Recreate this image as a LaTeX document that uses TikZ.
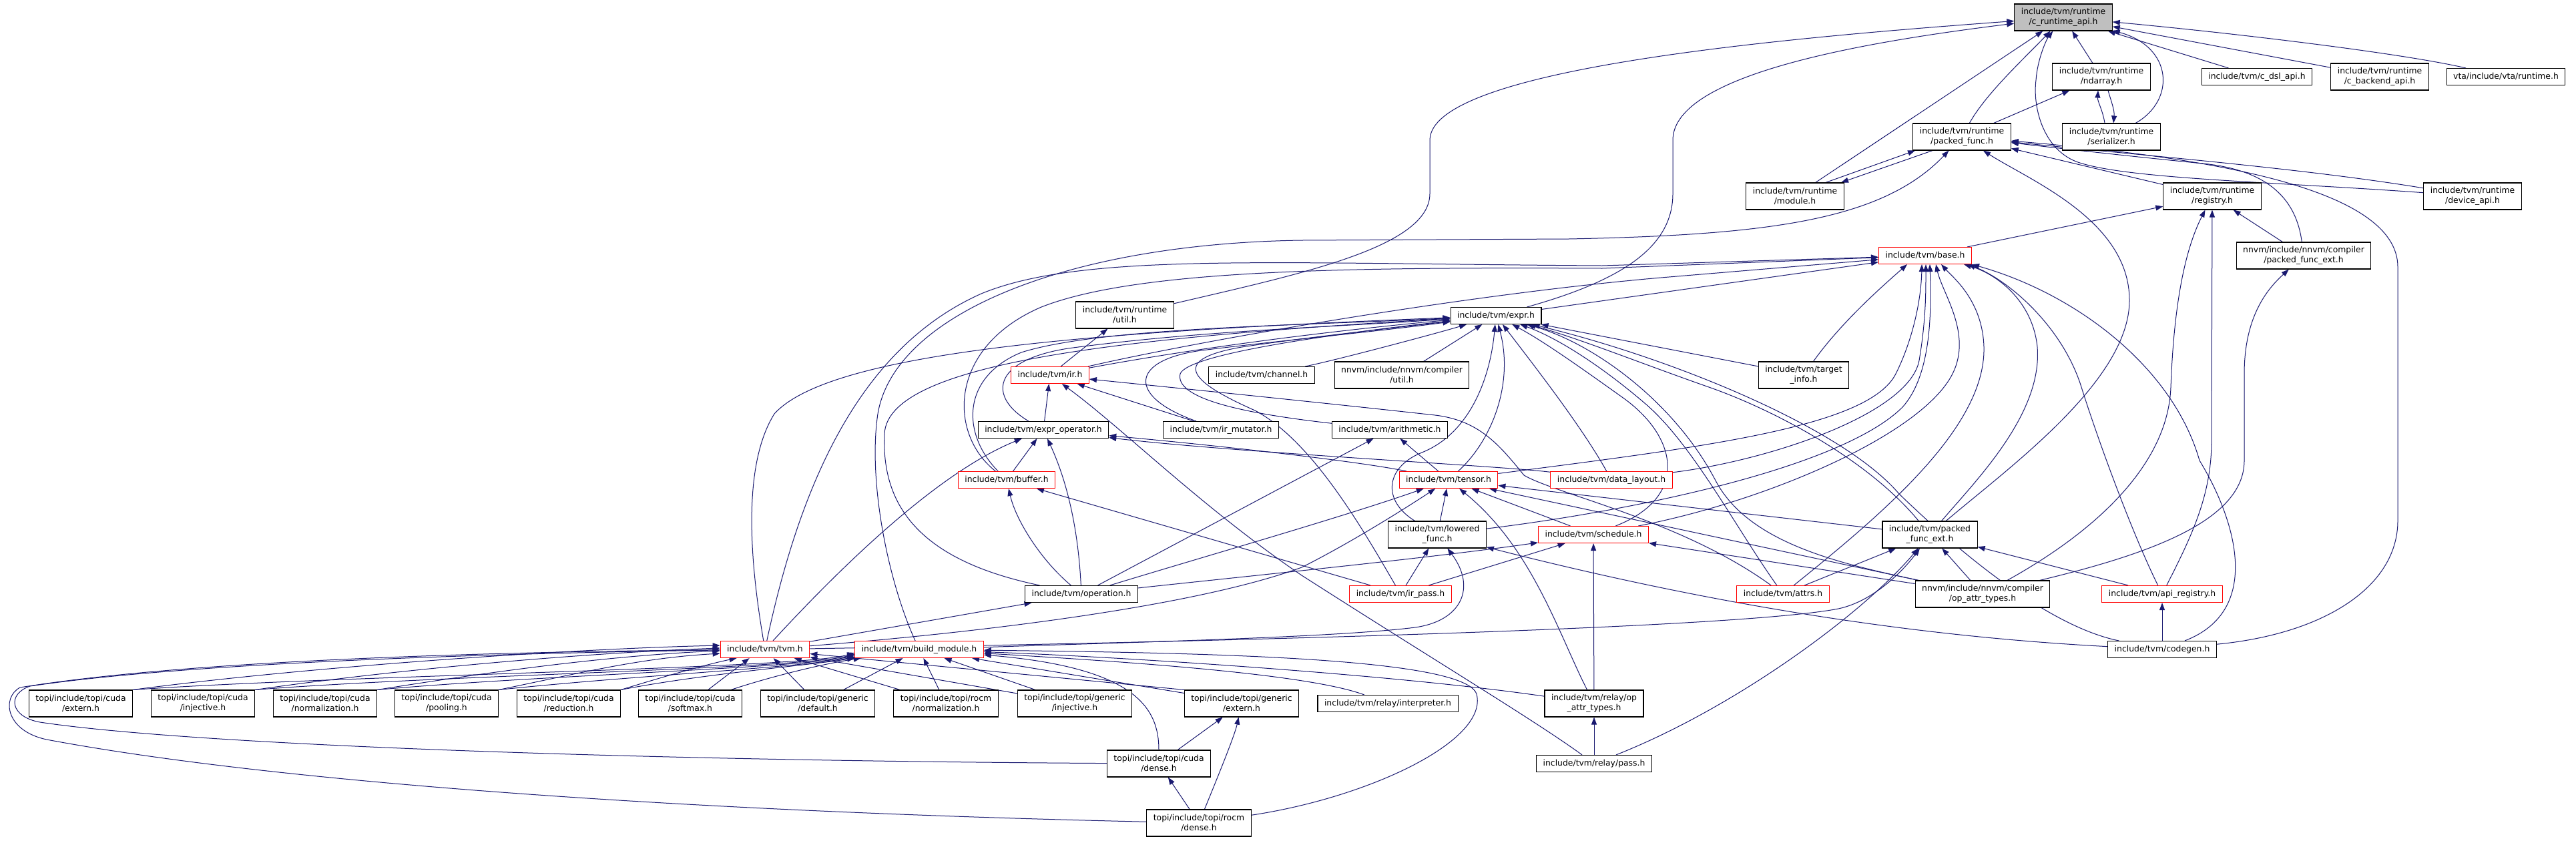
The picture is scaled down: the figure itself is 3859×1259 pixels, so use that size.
\documentclass[tikz,border=0pt]{standalone}
\usepackage{fontspec}
\setmainfont{DejaVu Sans}
\usetikzlibrary{arrows.meta}
\definecolor{edgec}{HTML}{191970}
\definecolor{rootfill}{HTML}{BFBFBF}
\newcommand{\nfont}{\fontsize{12.4pt}{15pt}\selectfont}
\pgfdeclarelayer{back}
\pgfdeclarelayer{bg}
\pgfsetlayers{back,bg,main}
\tikzset{
  box/.style={draw=black, line width=1.1pt, fill=white, inner xsep=10pt, inner ysep=0pt, font=\nfont},
  one/.style={box, minimum height=25pt, text height=9.5pt, text depth=2.8pt},
  two/.style={box, minimum height=40pt, align=center},
  hot/.style={draw=red},
  root/.style={fill=rootfill},
  e/.style={draw=edgec, line width=1pt, -{Triangle[length=11pt,width=8pt]}},
}
\begin{document}
\begin{tikzpicture}[x=1pt,y=-1pt]
\begin{pgfonlayer}{back}
\fill[white] (0,0) rectangle (3859,1259);
\end{pgfonlayer}
\useasboundingbox (0,0) rectangle (3859,1259);
% ---------------- nodes ----------------
\node[two,root] (capi) at (3091,26) {include/tvm/runtime\\/c\_runtime\_api.h};
\node[two] (ndarray) at (3148,115) {include/tvm/runtime\\/ndarray.h};
\node[one] (cdsl) at (3381,115) {include/tvm/c\_dsl\_api.h};
\node[two] (cbackend) at (3565,115) {include/tvm/runtime\\/c\_backend\_api.h};
\node[one] (vta) at (3754,115) {vta/include/vta/runtime.h};
\node[two] (packed) at (2939,205) {include/tvm/runtime\\/packed\_func.h};
\node[two] (serializer) at (3163,205) {include/tvm/runtime\\/serializer.h};
\node[two] (module) at (2689,294) {include/tvm/runtime\\/module.h};
\node[two] (registry) at (3314,294) {include/tvm/runtime\\/registry.h};
\node[two] (devapi) at (3704,294) {include/tvm/runtime\\/device\_api.h};
\node[one,hot] (base) at (2884,383) {include/tvm/base.h};
\node[two] (nnpfe) at (3451,383) {nnvm/include/nnvm/compiler\\/packed\_func\_ext.h};
\node[two] (rutil) at (1685,472) {include/tvm/runtime\\/util.h};
\node[one] (expr) at (2241,473) {include/tvm/expr.h};
\node[one,hot] (ir) at (1573,562) {include/tvm/ir.h};
\node[one] (channel) at (1890,562) {include/tvm/channel.h};
\node[two] (nnutil) at (2100,562) {nnvm/include/nnvm/compiler\\/util.h};
\node[two] (target) at (2702,562) {include/tvm/target\\\_info.h};
\node[one] (exprop) at (1563,644) {include/tvm/expr\_operator.h};
\node[one] (irmut) at (1829,644) {include/tvm/ir\_mutator.h};
\node[one] (arith) at (2082,644) {include/tvm/arithmetic.h};
\node[one,hot] (buffer) at (1508,719) {include/tvm/buffer.h};
\node[one,hot] (tensor) at (2170,719) {include/tvm/tensor.h};
\node[one,hot] (layout) at (2414,719) {include/tvm/data\_layout.h};
\node[two] (lowered) at (2153,801) {include/tvm/lowered\\\_func.h};
\node[one,hot] (schedule) at (2387,801) {include/tvm/schedule.h};
\node[two] (tpfe) at (2891,801) {include/tvm/packed\\\_func\_ext.h};
\node[one] (operation) at (1620,890) {include/tvm/operation.h};
\node[one,hot] (irpass) at (2098,890) {include/tvm/ir\_pass.h};
\node[one,hot] (attrs) at (2671,890) {include/tvm/attrs.h};
\node[two] (nnop) at (2970,890) {nnvm/include/nnvm/compiler\\/op\_attr\_types.h};
\node[one,hot] (apireg) at (3239,890) {include/tvm/api\_registry.h};
\node[one,hot] (tvm) at (1146,973) {include/tvm/tvm.h};
\node[one,hot] (build) at (1377,973) {include/tvm/build\_module.h};
\node[one] (codegen) at (3239,973) {include/tvm/codegen.h};
\node[two] (cext) at (121,1054) {topi/include/topi/cuda\\/extern.h};
\node[two] (cinj) at (304,1054) {topi/include/topi/cuda\\/injective.h};
\node[two] (cnorm) at (487,1054) {topi/include/topi/cuda\\/normalization.h};
\node[two] (cpool) at (669,1054) {topi/include/topi/cuda\\/pooling.h};
\node[two] (cred) at (852,1054) {topi/include/topi/cuda\\/reduction.h};
\node[two] (csoft) at (1034,1054) {topi/include/topi/cuda\\/softmax.h};
\node[two] (gdef) at (1225,1054) {topi/include/topi/generic\\/default.h};
\node[two] (rnorm) at (1417,1054) {topi/include/topi/rocm\\/normalization.h};
\node[two] (ginj) at (1610,1054) {topi/include/topi/generic\\/injective.h};
\node[two] (gext) at (1860,1054) {topi/include/topi/generic\\/extern.h};
\node[one] (interp) at (2079,1054) {include/tvm/relay/interpreter.h};
\node[two] (relayop) at (2388,1054) {include/tvm/relay/op\\\_attr\_types.h};
\node[two] (cdense) at (1736,1144) {topi/include/topi/cuda\\/dense.h};
\node[one] (rpass) at (2388,1144) {include/tvm/relay/pass.h};
\node[two] (rdense) at (1796,1233) {topi/include/topi/rocm\\/dense.h};
% ---------------- edges ----------------
\begin{pgfonlayer}{bg}
% to c_runtime_api.h
\draw[e] (rutil) .. controls (1950,410) and (2142,370) .. (2142,290) -- (2142,210) .. controls (2142,100) and (2700,55) .. (capi);
\draw[e] (expr) .. controls (2430,420) and (2506,370) .. (2506,290) -- (2506,210) .. controls (2506,110) and (2800,62) .. (capi);
\draw[e] (module) -- (capi);
\draw[e] (packed) .. controls (2975,140) and (3035,85) .. (capi);
\draw[e] (devapi) .. controls (3400,272) and (3180,268) .. (3110,242) .. controls (3060,222) and (3045,160) .. (3050,120) .. controls (3052,90) and (3065,60) .. (capi);
\draw[e] (ndarray) -- (capi);
\draw[e] (serializer) .. controls (3260,150) and (3255,70) .. (capi);
\draw[e] (cdsl) -- (capi);
\draw[e] (cbackend) -- (capi);
\draw[e] ([xshift=-60pt]vta.north) .. controls (3600,80) and (3350,50) .. (capi);
% runtime cluster
\draw[e] ([xshift=-10pt]serializer.north) .. controls (3150,165) and (3142,152) .. ([xshift=-5pt]ndarray.south);
\draw[e] ([xshift=10pt]ndarray.south) .. controls (3162,150) and (3168,165) .. ([xshift=3pt]serializer.north);
\draw[e] (packed) -- (ndarray);
\draw[e] ([xshift=46pt]module.north) -- ([xshift=-70pt]packed.south);
\draw[e] ([xshift=-44pt]packed.south) -- ([xshift=69pt]module.north);
\draw[e] (registry) -- (packed);
\draw[e] (devapi) .. controls (3450,252) and (3200,232) .. (packed);
\draw[e] (tpfe) .. controls (3010,700) and (3190,570) .. (3190,450) .. controls (3190,330) and (3040,270) .. (packed);
\draw[e] (codegen) .. controls (3480,950) and (3592,880) .. (3592,780) -- (3592,400) .. controls (3592,280) and (3300,235) .. (packed);
\draw[e] (nnpfe) .. controls (3440,300) and (3400,255) .. (3300,245) .. controls (3200,235) and (3100,224) .. (packed);
\draw[e] (build) .. controls (1330,870) and (1300,720) .. (1315,620) .. controls (1340,470) and (1600,365) .. (1950,360) -- (2350,358) .. controls (2650,352) and (2820,330) .. (packed);
% to registry
\draw[e] (base) -- (registry);
\draw[e] (nnpfe) -- (registry);
\draw[e] (apireg) .. controls (3285,800) and (3313,740) .. (3313,660) -- (registry);
\draw[e] (nnop) .. controls (3150,790) and (3248,690) .. (3252,580) .. controls (3256,470) and (3270,380) .. (registry);
\draw[e] (nnop) .. controls (3220,830) and (3362,780) .. (3362,690) -- (3362,560) .. controls (3362,470) and (3400,430) .. (nnpfe);
% to base.h
\draw[e] (expr) -- (base);
\draw[e] (target) .. controls (2760,480) and (2830,420) .. ([xshift=-27pt]base.south);
\draw[e] (tensor) .. controls (2550,670) and (2800,640) .. (2840,560) .. controls (2865,510) and (2878,450) .. ([xshift=-5pt]base.south);
\draw[e] (layout) .. controls (2650,690) and (2860,620) .. (2875,540) .. controls (2885,480) and (2885,440) .. ([xshift=1pt]base.south);
\draw[e] (lowered) .. controls (2450,765) and (2760,700) .. (2850,610) .. controls (2895,560) and (2893,460) .. ([xshift=7pt]base.south);
\draw[e] (schedule) .. controls (2650,750) and (2880,650) .. (2925,560) .. controls (2955,500) and (2910,440) .. ([xshift=16pt]base.south);
\draw[e] (attrs) .. controls (2820,770) and (2975,640) .. (2972,520) .. controls (2970,450) and (2925,415) .. ([xshift=24pt]base.south);
\draw[e] (tpfe) .. controls (2960,720) and (3060,620) .. (3052,520) .. controls (3045,450) and (2990,410) .. ([xshift=-12pt]base.south east);
\draw[e] (apireg) .. controls (3190,790) and (3140,650) .. (3118,580) .. controls (3090,490) and (3010,420) .. ([xshift=-6pt]base.south east);
\draw[e] (codegen) .. controls (3390,915) and (3350,780) .. (3295,690) .. controls (3255,550) and (3110,440) .. (base.south east);
\draw[e] (ir) .. controls (1800,510) and (2200,440) .. (2500,415) -- (base);
\draw[e] (buffer) .. controls (1420,650) and (1420,520) .. (1560,460) .. controls (1700,405) and (2000,400) .. (2400,402) -- (base);
\draw[e] (tvm) .. controls (1200,720) and (1290,520) .. (1470,440) .. controls (1620,378) and (1900,395) .. (2400,398) -- (base);
% to expr.h
\draw[e] (ir) .. controls (1800,520) and (2000,495) .. (expr);
\draw[e] (buffer) .. controls (1440,650) and (1440,565) .. (1530,528) .. controls (1650,490) and (1950,488) .. (expr);
\draw[e] (exprop) .. controls (1480,595) and (1485,540) .. (1600,522) .. controls (1800,495) and (2000,490) .. (expr);
\draw[e] (irmut) .. controls (1690,595) and (1690,540) .. (1800,525) .. controls (1920,510) and (2060,497) .. (expr);
\draw[e] (arith) .. controls (1850,618) and (1760,595) .. (1768,560) .. controls (1780,530) and (2000,500) .. (expr);
\draw[e] (operation) .. controls (1380,840) and (1320,760) .. (1325,650) .. controls (1330,540) and (1700,505) .. (expr);
\draw[e] (irpass) .. controls (2040,790) and (1965,660) .. (1880,615) .. controls (1790,575) and (1745,540) .. (1860,520) .. controls (1960,505) and (2100,490) .. (expr);
\draw[e] (tvm) .. controls (1125,850) and (1110,700) .. (1160,620) .. controls (1250,520) and (1700,495) .. (expr);
\draw[e] (channel) .. controls (2000,540) and (2150,500) .. (expr);
\draw[e] (nnutil) -- (expr);
\draw[e] (lowered) .. controls (2070,750) and (2075,700) .. (2130,678) .. controls (2200,650) and (2232,570) .. (expr);
\draw[e] (tensor) .. controls (2235,660) and (2268,575) .. (expr);
\draw[e] (layout) .. controls (2370,640) and (2300,550) .. (expr);
\draw[e] (schedule) .. controls (2530,745) and (2515,655) .. (2430,595) .. controls (2360,545) and (2310,510) .. (expr);
\draw[e] (attrs) .. controls (2600,790) and (2535,665) .. (2465,605) .. controls (2395,545) and (2330,505) .. (expr);
\draw[e] (nnop) .. controls (2760,845) and (2620,815) .. (2570,720) .. controls (2510,605) and (2390,515) .. (expr);
\draw[e] (tpfe) .. controls (2800,690) and (2660,615) .. (2560,580) .. controls (2460,545) and (2360,505) .. (expr);
\draw[e] (target) -- (expr);
\draw[e] (codegen) .. controls (3100,945) and (2990,880) .. (2845,740) .. controls (2760,640) and (2500,535) .. (expr);
% expr_operator, ir, util
\draw[e] (exprop) -- (ir);
\draw[e] (tvm) .. controls (1250,860) and (1400,710) .. (exprop);
\draw[e] (buffer) -- (exprop);
\draw[e] (operation) .. controls (1615,790) and (1598,720) .. (exprop);
\draw[e] (tensor) .. controls (2030,690) and (1800,665) .. (exprop);
\draw[e] (layout) .. controls (2250,698) and (1850,678) .. (exprop);
\draw[e] (irmut) -- (ir);
\draw[e] (attrs) .. controls (2520,780) and (2330,740) .. (2283,712) .. controls (2245,665) and (2215,630) .. (2150,622) .. controls (1950,600) and (1750,580) .. (ir);
\draw[e] (rpass) .. controls (2300,1080) and (2150,990) .. (1950,862) .. controls (1800,760) and (1680,640) .. (ir);
\draw[e] (ir) -- (rutil);
% buffer, tensor, arithmetic
\draw[e] (operation) .. controls (1560,840) and (1522,780) .. (buffer);
\draw[e] (irpass) -- (buffer);
\draw[e] (tvm) .. controls (1500,945) and (1800,905) .. (1950,850) .. controls (2020,815) and (2100,765) .. (tensor);
\draw[e] (operation) .. controls (1800,835) and (2010,775) .. (tensor);
\draw[e] (lowered) -- (tensor);
\draw[e] (schedule) -- (tensor);
\draw[e] (relayop) .. controls (2335,950) and (2295,820) .. (tensor);
\draw[e] (tpfe) -- (tensor);
\draw[e] (nnop) -- (tensor);
\draw[e] (tensor) -- (arith);
\draw[e] (operation) -- (arith);
% schedule, lowered
\draw[e] (operation) .. controls (1900,860) and (2150,835) .. (schedule);
\draw[e] (irpass) -- (schedule);
\draw[e] (relayop) -- (schedule);
\draw[e] (nnop) -- (schedule);
\draw[e] (irpass) -- (lowered);
\draw[e] (build) .. controls (1700,962) and (2000,955) .. (2120,940) .. controls (2190,930) and (2212,880) .. (lowered);
\draw[e] (codegen) .. controls (2900,955) and (2600,915) .. (lowered);
% packed_func_ext, api_registry
\draw[e] (tvm) .. controls (1800,962) and (2600,942) .. (2754,912) .. controls (2810,900) and (2855,850) .. (tpfe);
\draw[e] (attrs) -- (tpfe);
\draw[e] (rpass) .. controls (2600,1060) and (2790,920) .. (tpfe);
\draw[e] (nnop) -- (tpfe);
\draw[e] (apireg) -- (tpfe);
\draw[e] (codegen) -- (apireg);
% relay
\draw[e] (rpass) -- (relayop);
\draw[e] (relayop) .. controls (2100,1012) and (1700,985) .. (build);
\draw[e] (interp) .. controls (1960,1010) and (1700,992) .. (build);
\draw[e] (tvm) -- (operation);
% topi
\draw[e] (cdense) .. controls (1736,1060) and (1700,1000) .. (build);
\draw[e] (cdense) -- (gext);
\draw[e] (cdense) .. controls (1000,1140) and (300,1118) .. (60,1082) .. controls (15,1074) and (10,1040) .. (45,1028) .. controls (300,990) and (800,978) .. (tvm);
\draw[e] (rdense) .. controls (1000,1215) and (400,1170) .. (70,1108) .. controls (8,1095) and (2,1045) .. (30,1030) .. controls (300,986) and (800,976) .. (tvm);
\draw[e] (rdense) .. controls (2050,1195) and (2230,1110) .. (2212,1040) .. controls (2195,985) and (1800,978) .. (build);
\draw[e] (rdense) -- (cdense);
\draw[e] (rdense) .. controls (1830,1150) and (1850,1100) .. (gext);
\draw[e] (cext.north east) .. controls (450,1000) and (850,972) .. ([yshift=6pt]tvm.west);
\draw[e] (cinj.north east) .. controls (600,1002) and (880,978) .. ([yshift=2pt]tvm.west);
\draw[e] (cnorm.north east) .. controls (750,1004) and (920,982) .. ([yshift=-2pt]tvm.west);
\draw[e] (cpool.north east) .. controls (880,1006) and (960,986) .. ([yshift=-6pt]tvm.west);
\draw[e] (cred.north east) .. controls (1000,1012) and (1060,995) .. ([xshift=25pt]tvm.south west);
\draw[e] (cext.north east) .. controls (500,1012) and (1200,1002) .. ([yshift=8pt]build.south west);
\draw[e] (cinj.north east) .. controls (650,1012) and (1200,1002) .. ([yshift=6pt]build.south west);
\draw[e] (cnorm.north east) .. controls (800,1012) and (1200,1001) .. ([yshift=4pt]build.south west);
\draw[e] (cpool.north east) .. controls (950,1012) and (1200,1000) .. ([yshift=2pt]build.south west);
\draw[e] (cred.north east) .. controls (1050,1010) and (1200,998) .. (build.south west);
\draw[e] (csoft) -- ([xshift=44pt]tvm.south west);
\draw[e] (csoft) .. controls (1150,1015) and (1230,995) .. (build);
\draw[e] (gdef) -- (tvm);
\draw[e] (gdef) -- (build);
\draw[e] (rnorm) -- (tvm);
\draw[e] (rnorm) -- (build);
\draw[e] (ginj) -- (tvm);
\draw[e] (ginj) -- (build);
\draw[e] (gext.north west) -- (tvm);
\draw[e] ([yshift=-5pt]gext.north west) -- (build);
\end{pgfonlayer}
\end{tikzpicture}
\end{document}
